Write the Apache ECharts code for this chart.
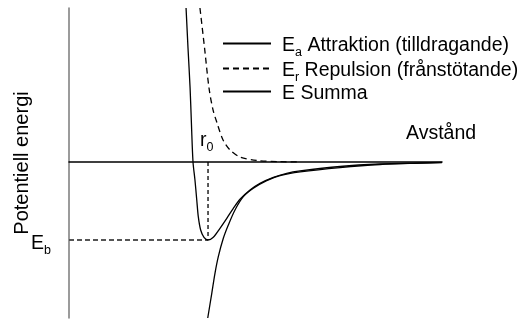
<!DOCTYPE html>
<html>
<head>
<meta charset="utf-8">
<script src="https://cdn.jsdelivr.net/npm/echarts@6/dist/echarts.min.js"></script>
<style>
  html, body { margin: 0; padding: 0; background: #fff; }
  #chart { width: 526px; height: 320px; }
</style>
</head>
<body>
<div id="chart"></div>
<script>
// distance in units of r0, energy in units of |Eb|
const sumCurve = [
  [0.842, 1.974], [0.856, 1.462], [0.871, 0.949], [0.881, 0.474], [0.892, 0.0],
  [0.906, -0.231], [0.919, -0.487], [0.930, -0.701], [0.947, -0.872],
  [0.971, -0.965], [1.000, -1.000], [1.038, -0.965], [1.086, -0.850],
  [1.135, -0.722], [1.182, -0.594], [1.230, -0.478], [1.302, -0.359],
  [1.374, -0.273], [1.470, -0.196], [1.566, -0.145], [1.662, -0.115],
  [1.950, -0.058], [2.237, -0.026], [2.525, -0.013], [2.683, -0.006]
];
const attraction = [
  [0.998, -2.0], [1.027, -1.683], [1.050, -1.427], [1.074, -1.214],
  [1.110, -0.978], [1.146, -0.808], [1.194, -0.615], [1.254, -0.445],
  [1.326, -0.337], [1.422, -0.240], [1.518, -0.176], [1.662, -0.128],
  [1.950, -0.071], [2.237, -0.032], [2.525, -0.015], [2.683, -0.008]
];
const repulsion = [
  [0.942, 1.974], [0.975, 1.462], [1.007, 0.949], [1.036, 0.667],
  [1.065, 0.50], [1.108, 0.282], [1.158, 0.154], [1.230, 0.064],
  [1.353, 0.019], [1.518, 0.004], [1.662, 0.0]
];
const r0Line = [[1, 0], [1, -1]];
const ebLine = [[0, -1], [1, -1]];
const seriesNames = ['Ea', 'Er', 'E'];
const legendTexts = [
  '{m|E}{s|a}{m| Attraktion (tilldragande)}',
  '{m|E}{s|r}{m| Repulsion (frånstötande)}',
  '{m|E Summa}'
];

const font = '"Liberation Sans", Arial, sans-serif';
const rich = {
  m: { fontFamily: font, fontSize: 19.5, color: '#000', lineHeight: 22 },
  s: { fontFamily: font, fontSize: 12.5, color: '#000', padding: [14, 0, 0, 0], lineHeight: 22 }
};

const chart = echarts.init(document.getElementById('chart'));

const lineSeries = (name, data, type) => ({
  name,
  type: 'line',
  data,
  smooth: 0.3,
  symbol: 'none',
  lineStyle: { color: '#000', width: 1.3, type },
  itemStyle: { color: '#000' },
  z: 3
});

const legendAt = (i, top) => ({
  data: [seriesNames[i]],
  left: 222,
  top,
  padding: 0,
  itemWidth: 48,
  itemHeight: 26,
  selectedMode: false,
  itemStyle: { opacity: 0 },
  formatter: () => legendTexts[i],
  textStyle: { rich, padding: [4, 0, 0, 6] }
});

chart.setOption({
  animation: false,
  grid: { left: 69, right: 84, top: 8, bottom: 2, containLabel: false, outerBoundsMode: 'none' },
  legend: [legendAt(0, 32), legendAt(1, 57), legendAt(2, 81)],
  xAxis: {
    type: 'value',
    min: 0,
    max: 2.683,
    axisLine: { onZero: true, lineStyle: { color: '#000', width: 1.5 } },
    axisTick: { show: false },
    axisLabel: { show: false },
    splitLine: { show: false }
  },
  yAxis: {
    type: 'value',
    min: -2,
    max: 1.974,
    interval: 1,
    name: 'Potentiell energi',
    nameLocation: 'middle',
    nameRotate: 90,
    nameGap: 37,
    nameMoveOverlap: false,
    nameTextStyle: { fontFamily: font, fontSize: 20, color: '#000' },
    axisLine: { show: true, lineStyle: { color: '#7a7a7a', width: 1.5 } },
    axisTick: { show: false },
    splitLine: { show: false },
    axisLabel: {
      margin: 18,
      padding: [8, 0, 0, 0],
      showMaxLabel: false,
      formatter: v => (v === -1 ? '{m|E}{s|b}' : ''),
      rich
    }
  },
  graphic: [
    {
      type: 'text', left: 200, top: 127,
      style: { rich, text: '{m|r}{s|0}' }
    },
    {
      type: 'text', left: 406, top: 124,
      style: { text: 'Avstånd', font: '19.5px ' + font, fill: '#000' }
    }
  ],
  series: [
    lineSeries('Ea', attraction, 'solid'),
    lineSeries('Er', repulsion, [6, 4]),
    lineSeries('E', sumCurve, 'solid'),
    {
      type: 'line', data: r0Line, symbol: 'none', silent: true,
      lineStyle: { color: '#000', width: 1.3, type: [4, 3] }, z: 2
    },
    {
      type: 'line', data: ebLine, symbol: 'none', silent: true,
      lineStyle: { color: '#555', width: 1.8, type: [5, 3] }, z: 2
    }
  ]
});
</script>
</body>
</html>
